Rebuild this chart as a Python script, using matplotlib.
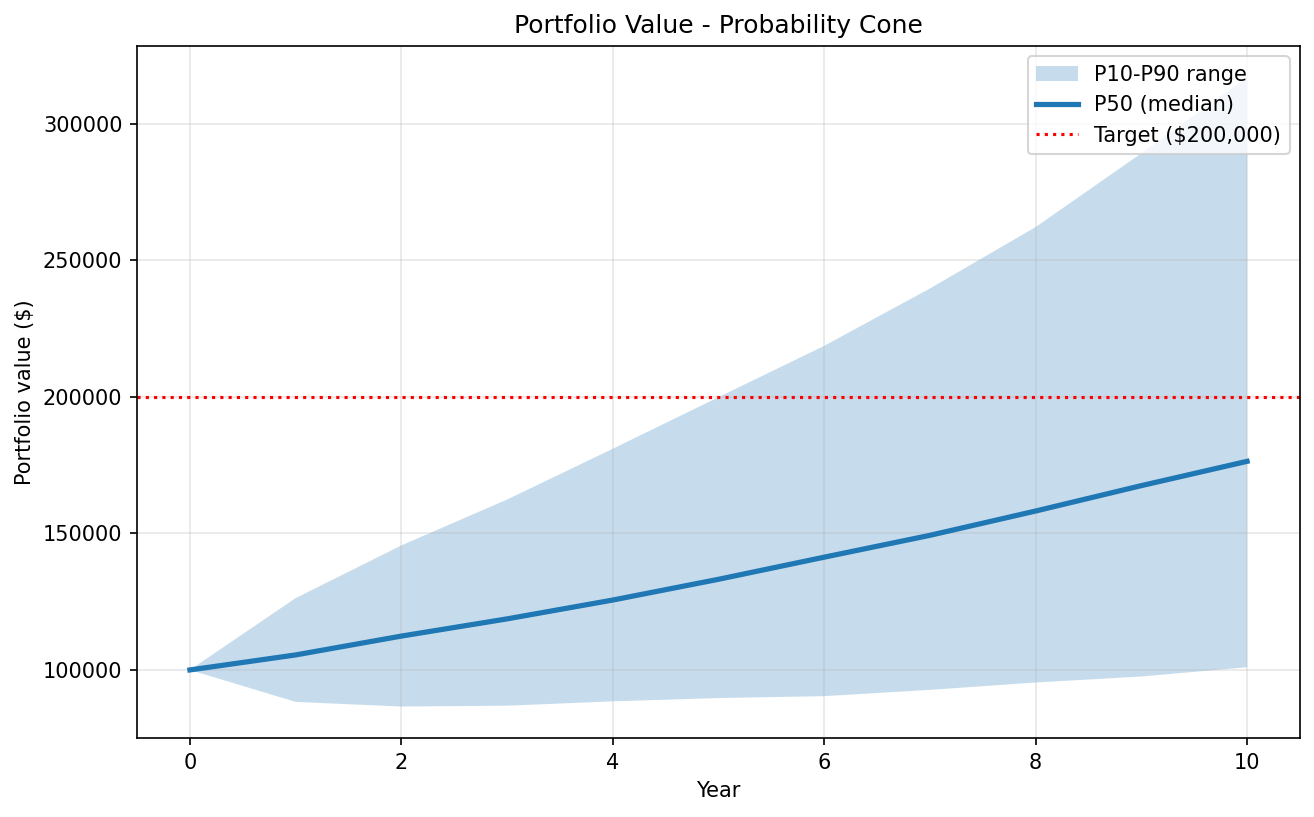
import numpy as np
import matplotlib.pyplot as plt

years = np.arange(0, 11)
p10 = [100000, 88300, 86600, 86900, 88500, 89700, 90400, 92700, 95400, 97600, 101000]
p50 = [100000, 105500, 112400, 118700, 125600, 133200, 141300, 149300, 158200, 167500, 176400]
p90 = [100000, 126300, 145600, 162400, 181000, 199900, 218700, 239700, 262200, 289200, 317000]
target = 200000

fig, ax = plt.subplots(figsize=(8.76, 5.447), dpi=150)
ax.fill_between(years, p10, p90, alpha=0.25, label='P10-P90 range')
ax.plot(years, p50, linewidth=2.5, label='P50 (median)')
ax.axhline(target, color='red', linestyle=':', label=f'Target (${target:,})')
ax.set_title('Portfolio Value - Probability Cone')
ax.set_xlabel('Year')
ax.set_ylabel('Portfolio value ($)')
ax.grid(alpha=0.3)
ax.legend(loc='upper right')
fig.subplots_adjust(left=0.1043, right=0.9893, top=0.9437, bottom=0.0967)
plt.savefig('out.png', dpi=150)
